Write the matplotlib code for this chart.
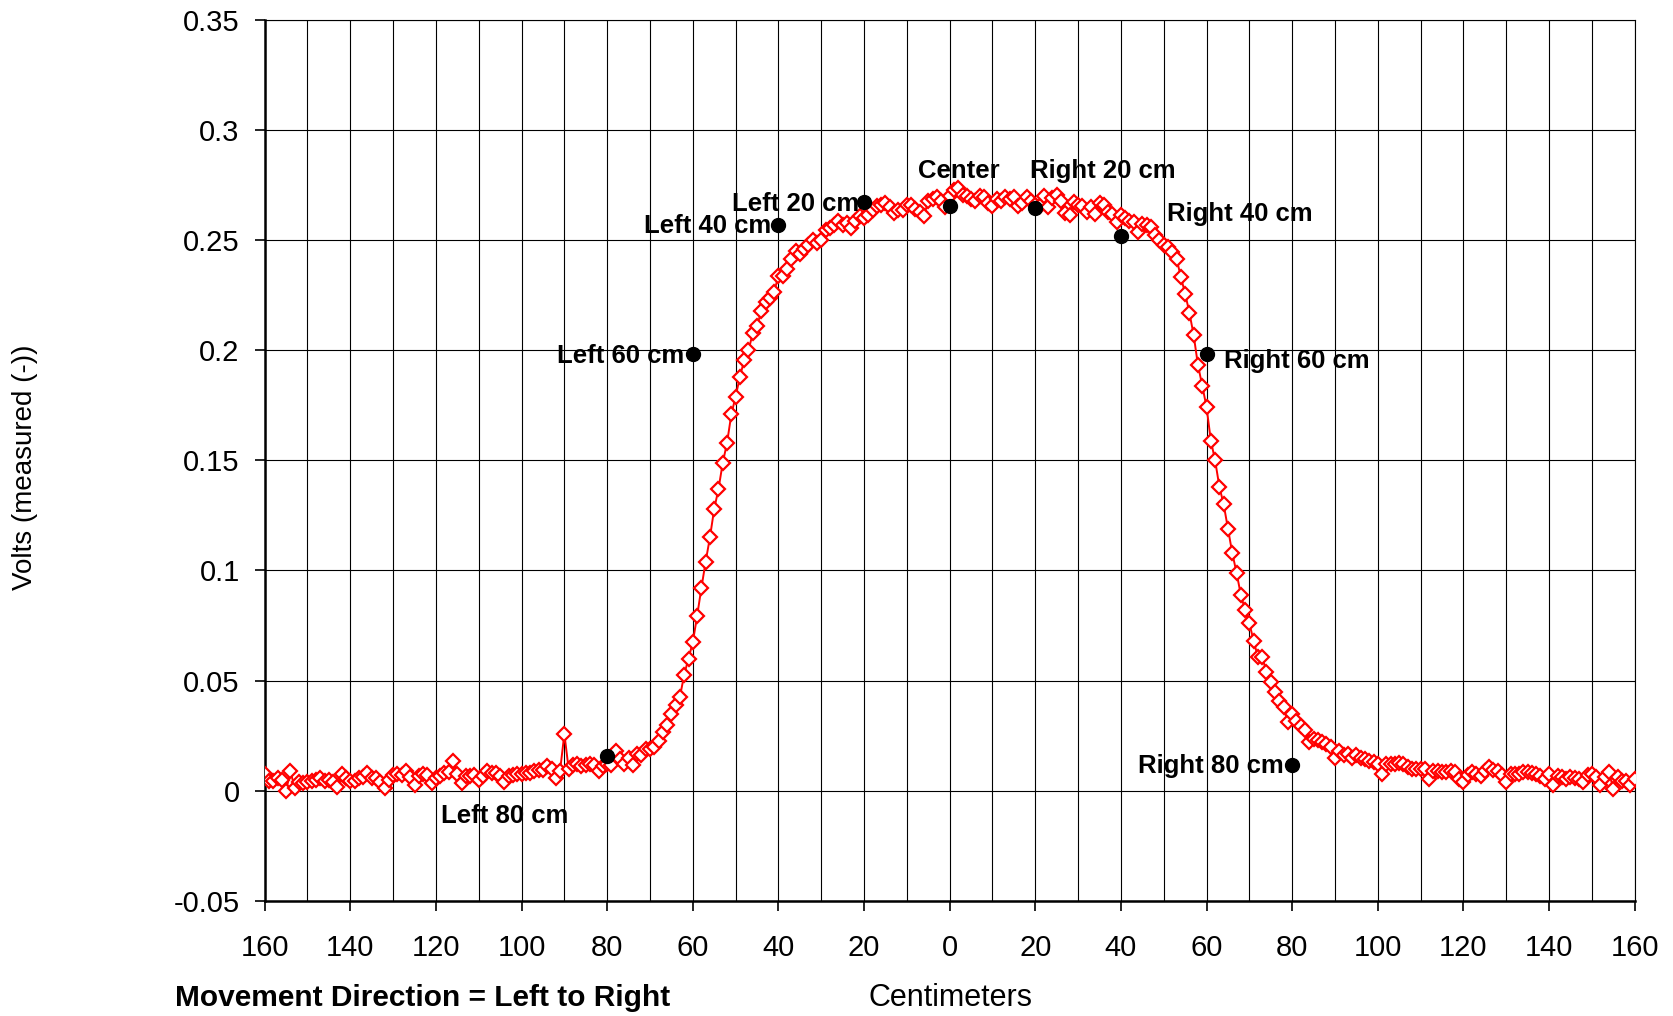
import numpy as np
import matplotlib
matplotlib.use("Agg")
import matplotlib.pyplot as plt
from matplotlib.ticker import FuncFormatter, MultipleLocator

plt.rcParams['font.family'] = ['Liberation Sans', 'DejaVu Sans']

# sensor position (cm), negative = left of centre
positions = np.arange(-160, 161)

# measured voltage, one reading per cm
volts = [
    0.0073, 0.0045, 0.0042, 0.0058, 0.0050, -0.0003, 0.0090, 0.0012, 0.0040, 0.0035,
    0.0040, 0.0045, 0.0050, 0.0055, 0.0045, 0.0050, 0.0040, 0.0015, 0.0076, 0.0055,
    0.0045, 0.0042, 0.0058, 0.0060, 0.0080, 0.0055, 0.0058, 0.0040, 0.0012, 0.0050,
    0.0070, 0.0073, 0.0070, 0.0088, 0.0060, 0.0027, 0.0065, 0.0073, 0.0070, 0.0035,
    0.0058, 0.0065, 0.0080, 0.0085, 0.0136, 0.0073, 0.0035, 0.0065, 0.0065, 0.0070,
    0.0050, 0.0065, 0.0088, 0.0080, 0.0080, 0.0065, 0.0040, 0.0065, 0.0070, 0.0073,
    0.0073, 0.0080, 0.0082, 0.0088, 0.0092, 0.0095, 0.0110, 0.0100, 0.0055, 0.0090,
    0.0258, 0.0098, 0.0114, 0.0121, 0.0110, 0.0114, 0.0120, 0.0118, 0.0088, 0.0110,
    0.0120, 0.0114, 0.0180, 0.0144, 0.0120, 0.0150, 0.0118, 0.0167, 0.0160, 0.0190,
    0.0190, 0.0197, 0.0227, 0.0265, 0.0300, 0.0350, 0.0390, 0.0427, 0.0527, 0.0600,
    0.0674, 0.0792, 0.0920, 0.1040, 0.1150, 0.1280, 0.1370, 0.1490, 0.1580, 0.1710,
    0.1790, 0.1880, 0.1955, 0.2000, 0.2077, 0.2110, 0.2180, 0.2220, 0.2240, 0.2265,
    0.2340, 0.2340, 0.2370, 0.2416, 0.2450, 0.2440, 0.2460, 0.2480, 0.2500, 0.2490,
    0.2500, 0.2547, 0.2556, 0.2570, 0.2590, 0.2570, 0.2580, 0.2556, 0.2590, 0.2610,
    0.2600, 0.2617, 0.2640, 0.2655, 0.2660, 0.2670, 0.2651, 0.2625, 0.2640, 0.2640,
    0.2660, 0.2660, 0.2643, 0.2630, 0.2613, 0.2678, 0.2690, 0.2695, 0.2680, 0.2650,
    0.2700, 0.2730, 0.2738, 0.2707, 0.2700, 0.2690, 0.2680, 0.2700, 0.2695, 0.2670,
    0.2655, 0.2686, 0.2680, 0.2695, 0.2690, 0.2695, 0.2655, 0.2670, 0.2695, 0.2680,
    0.2660, 0.2655, 0.2700, 0.2650, 0.2692, 0.2707, 0.2677, 0.2624, 0.2614, 0.2674,
    0.2660, 0.2655, 0.2630, 0.2650, 0.2620, 0.2670, 0.2660, 0.2630, 0.2620, 0.2583,
    0.2614, 0.2600, 0.2590, 0.2583, 0.2538, 0.2576, 0.2570, 0.2560, 0.2523, 0.2500,
    0.2477, 0.2470, 0.2447, 0.2417, 0.2333, 0.2258, 0.2171, 0.2068, 0.1932, 0.1840,
    0.1742, 0.1590, 0.1500, 0.1380, 0.1300, 0.1190, 0.1080, 0.0990, 0.0890, 0.0820,
    0.0760, 0.0680, 0.0606, 0.0606, 0.0538, 0.0492, 0.0447, 0.0409, 0.0379, 0.0310,
    0.0348, 0.0318, 0.0295, 0.0273, 0.0220, 0.0235, 0.0230, 0.0220, 0.0210, 0.0197,
    0.0150, 0.0180, 0.0160, 0.0167, 0.0150, 0.0160, 0.0150, 0.0144, 0.0136, 0.0129,
    0.0120, 0.0076, 0.0120, 0.0120, 0.0120, 0.0125, 0.0120, 0.0106, 0.0100, 0.0098,
    0.0098, 0.0098, 0.0053, 0.0090, 0.0090, 0.0083, 0.0085, 0.0090, 0.0083, 0.0053,
    0.0038, 0.0070, 0.0083, 0.0075, 0.0068, 0.0090, 0.0106, 0.0095, 0.0090, 0.0070,
    0.0038, 0.0076, 0.0076, 0.0076, 0.0083, 0.0083, 0.0080, 0.0076, 0.0065, 0.0053,
    0.0076, 0.0023, 0.0068, 0.0060, 0.0053, 0.0060, 0.0055, 0.0053, 0.0038, 0.0070,
    0.0076, 0.0060, 0.0023, 0.0060, 0.0083, 0.0008, 0.0060, 0.0045, 0.0045, 0.0023,
    0.0053,
]

# reference points
ref_names = ["Left 80 cm", "Left 60 cm", "Left 40 cm", "Left 20 cm", "Center",
             "Right 20 cm", "Right 40 cm", "Right 60 cm", "Right 80 cm"]
ref_pos = [-80, -60, -40, -20, 0, 20, 40, 60, 80]
ref_volts = [0.0158, 0.1985, 0.2570, 0.2676, 0.2657, 0.2645, 0.2521, 0.1985, 0.0116]

# where each label sits (left edge x, centre y) in data units
label_xy = [(-118.9, -0.0116), (-91.7, 0.1973), (-71.5, 0.2565), (-50.8, 0.2667),
            (-7.5, 0.2817), (18.7, 0.2817), (50.8, 0.2618), (64.0, 0.1954),
            (43.9, 0.0112)]

fig = plt.figure(figsize=(16.73, 10.16), dpi=100)
ax = fig.add_axes([0.1582, 0.1136, 0.8189, 0.8664])

ax.plot(positions, volts, color='red', lw=1.4, marker='D', ms=7.5,
        mfc='white', mec='red', mew=1.6, zorder=3)
ax.plot(ref_pos, ref_volts, 'o', color='black', ms=10, zorder=4)

for name, (tx, ty) in zip(ref_names, label_xy):
    ax.text(tx, ty, name, fontsize=18.5, fontweight='bold', ha='left',
            va='center', zorder=5)

ax.set_xlim(-160, 160)
ax.set_ylim(-0.05, 0.35)
ax.xaxis.set_major_locator(MultipleLocator(20))
ax.xaxis.set_minor_locator(MultipleLocator(10))
ax.yaxis.set_major_locator(MultipleLocator(0.05))
ax.xaxis.set_major_formatter(FuncFormatter(lambda v, p: f"{abs(v):g}"))
ax.yaxis.set_major_formatter(FuncFormatter(lambda v, p: f"{round(v, 2):g}"))

ax.grid(which='both', color='black', lw=0.8)
ax.set_axisbelow(True)
ax.tick_params(which='major', direction='out', length=7, width=1.2,
               labelsize=21, colors='black')
ax.tick_params(axis='x', which='major', pad=17)
ax.tick_params(axis='y', which='major', pad=11)
ax.tick_params(which='minor', length=0)

for side in ['left', 'bottom']:
    ax.spines[side].set_linewidth(1.8)
for side in ['top', 'right']:
    ax.spines[side].set_linewidth(0.8)

fig.text(0.0149, 0.5404, "Volts (measured (-))", rotation=90, fontsize=20,
         ha='center', va='center')
fig.text(0.5680, 0.0098, "Centimeters", fontsize=22, ha='center',
         va='baseline')
fig.text(0.1046, 0.0100, "Movement Direction = Left to Right", fontsize=21.5,
         fontweight='bold', ha='left', va='baseline')

fig.savefig("out.png", dpi=100)
